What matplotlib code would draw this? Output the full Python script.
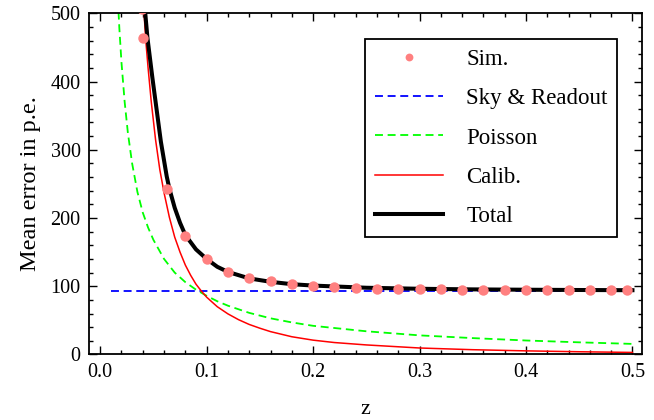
import matplotlib
matplotlib.use('Agg')
import matplotlib.pyplot as plt
from matplotlib.ticker import MultipleLocator

plt.rcParams['font.family'] = ['Liberation Serif', 'DejaVu Serif']

# simulated points
simZ = [0.039, 0.040, 0.063, 0.08, 0.10, 0.12, 0.14, 0.16, 0.18, 0.20, 0.22, 0.24,
        0.26, 0.28, 0.30, 0.32, 0.34, 0.36, 0.38, 0.40, 0.42, 0.44, 0.46, 0.48, 0.495]
simErr = [506, 464, 242, 173, 140, 121, 111.5, 107, 103.5, 101, 99, 97.7,
          96.6, 95.8, 95.6, 95.4, 95.2, 95.0, 94.9, 94.8, 94.7, 94.6, 94.5, 94.4, 94.0]

# sky & readout (constant)
skyZ = [0.01, 0.5]
skyErr = [93.5, 93.5]

# poisson
poisZ = [0.016, 0.018, 0.020, 0.023, 0.026, 0.030, 0.035, 0.040, 0.045, 0.050,
         0.060, 0.070, 0.080, 0.090, 0.10, 0.11, 0.12, 0.14, 0.16, 0.18, 0.20,
         0.25, 0.30, 0.35, 0.40, 0.45, 0.50]
poisErr = [540, 478, 428, 370, 325, 280, 238, 208, 186, 168,
           140, 120, 106, 95, 86, 78, 71.5, 61, 53, 47, 42,
           34, 28, 24, 20.5, 17.8, 15.5]

# calibration
calZ = [0.040, 0.041, 0.043, 0.045, 0.048, 0.052, 0.056, 0.060, 0.065, 0.070,
        0.075, 0.080, 0.085, 0.090, 0.095, 0.10, 0.11, 0.12, 0.13, 0.14, 0.15,
        0.16, 0.18, 0.20, 0.22, 0.25, 0.30, 0.35, 0.40, 0.45, 0.50]
calErr = [530, 505, 457, 420, 370, 315, 271, 237, 201, 172,
          150, 131, 116, 103, 93, 84, 70, 59.5, 51, 44, 38.5,
          33.5, 26, 21, 17.5, 14, 9.5, 7, 5.3, 4, 3]

# total
totZ = [0.0415, 0.042, 0.0444, 0.049, 0.053, 0.057, 0.0625, 0.065, 0.070, 0.075,
        0.080, 0.090, 0.10, 0.11, 0.12, 0.14, 0.16, 0.18, 0.20, 0.25, 0.30,
        0.35, 0.40, 0.45, 0.50]
totErr = [515, 506, 464, 406, 359, 312, 261, 243, 215, 193,
          175, 154, 140, 128.5, 121, 111.5, 106.5, 103, 101, 97.8, 96.3,
          95.4, 94.9, 94.5, 94.2]

fig = plt.figure(figsize=(6.54, 4.2), dpi=100)
ax = fig.add_axes([0.1361, 0.156, 0.8456, 0.8123])

ax.plot(skyZ, skyErr, color='#0000FF', lw=1.3, ls=(0, (4.4, 2.6)), label='Sky & Readout')
ax.plot(poisZ, poisErr, color='#00FF00', lw=1.3, ls=(0, (4.4, 2.6)), label='Poisson')
ax.plot(calZ, calErr, color='#FF0000', lw=1.1, label='Calib.')
ax.plot(totZ, totErr, color='black', lw=2.9, label='Total')
ax.plot(simZ, simErr, 'o', color='#FF8080', ms=7.5, mew=0, label='Sim.', zorder=5)

ax.set_xlim(-0.0105, 0.509)
ax.set_ylim(0, 500)
ax.xaxis.set_minor_locator(MultipleLocator(0.02))
ax.yaxis.set_major_locator(MultipleLocator(100))
ax.yaxis.set_minor_locator(MultipleLocator(20))
ax.set_xticks([0.0, 0.1, 0.2, 0.3, 0.4, 0.5])
ax.set_xticklabels(['0.0', '0.1', '0.2', '0.3', '0.4', '0.5'])
ax.tick_params(which='both', direction='in', top=True, right=True, labelsize=14.5, width=1)
ax.tick_params(which='major', length=5.5, pad=6)
ax.tick_params(which='minor', length=3)
for s in ax.spines.values():
    s.set_linewidth(1.3)

ax.set_xlabel('z', fontsize=16, labelpad=13)
ax.set_ylabel('Mean error in p.e.', fontsize=17.5, labelpad=7)

h, l = ax.get_legend_handles_labels()
order = [4, 0, 1, 2, 3]
leg = ax.legend([h[i] for i in order], [l[i] for i in order],
                loc='upper right', bbox_to_anchor=(0.976, 0.958), fontsize=16.5,
                frameon=True, fancybox=False, handlelength=3.0, handletextpad=1.0,
                labelspacing=0.8, borderpad=0.42, markerscale=0.75)
leg.get_frame().set_edgecolor('black')
leg.get_frame().set_linewidth(1.3)
leg.get_frame().set_alpha(1)

fig.savefig('out.png', dpi=100)
